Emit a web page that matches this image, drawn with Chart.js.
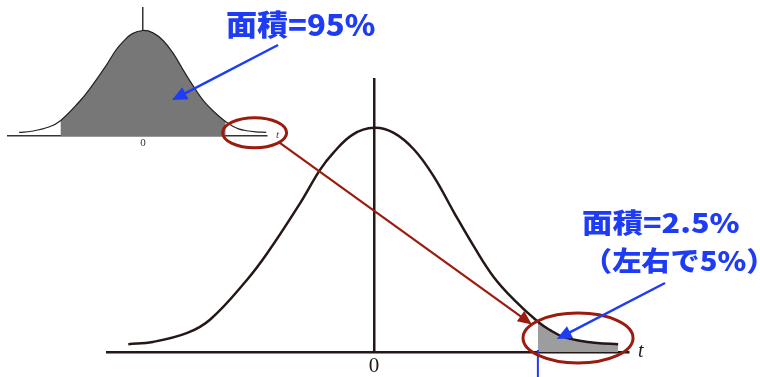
<!DOCTYPE html>
<html>
<head>
<meta charset="utf-8">
<script src="https://cdn.jsdelivr.net/npm/chart.js@4.4.0/dist/chart.umd.min.js"></script>
<style>
  body { margin: 0; width: 760px; height: 377px; position: relative; overflow: hidden; background: #fff; }
  canvas { position: absolute; left: 0; top: 0; }
  .lbl { position: absolute; white-space: nowrap; line-height: 1; z-index: 3; }
  .jp { font-family: "Noto Sans CJK JP", sans-serif; font-weight: 900; color: #1f3cf5; transform-origin: 0 0; }
  .tt { font-family: "Liberation Serif", serif; font-style: italic; color: #231815; }
</style>
</head>
<body>
<canvas id="inset" width="290" height="155" style="z-index:1"></canvas>
<canvas id="main" width="760" height="377" style="z-index:2"></canvas>
<div class="lbl jp" style="left:226px;top:9px;font-size:29px;transform:scaleX(1.07);">面積=95%</div>
<div class="lbl jp" style="left:582px;top:208px;font-size:27px;transform:scaleX(1.13);">面積=2.5%</div>
<div class="lbl jp" style="left:583px;top:246px;font-size:27px;transform:scaleX(1.08);">（左右で5%）</div>
<div class="lbl tt" style="left:638px;top:340px;font-size:20px;">t</div>
<div class="lbl tt" style="left:276px;top:129px;font-size:11px;color:#444;">t</div>
<script>
// t値と確率密度
let curveT = [-3.0, -2.70, -2.28, -2.0, -1.55, -1.30, -0.90, -0.66, -0.50, -0.26, 0,
              0.24, 0.49, 0.73, 0.98, 1.22, 1.46, 1.71, 2.0, 2.15, 2.31, 2.51, 2.72, 2.98];
let curveD = [0.014, 0.018, 0.034, 0.058, 0.129, 0.177, 0.266, 0.325, 0.355, 0.388, 0.400,
              0.391, 0.361, 0.313, 0.248, 0.188, 0.134, 0.093, 0.054, 0.039, 0.027, 0.020, 0.016, 0.014];
let critT = 2.0;          // 棄却域の境界
let tickValues = [0];
let yMax = 0.489;

let ink = '#231815';
let red = '#9b1b0f';
let blue = '#1f3cf5';

function points(filter) {
    let out = [];
    for (let i = 0; i < curveT.length; i++) {
        if (!filter || filter(curveT[i])) out.push({ x: curveT[i], y: curveD[i] });
    }
    return out;
}

function xScale(min, max, fontSize, lw, color, h, pad) {
    return {
        type: 'linear', min: min, max: max, z: 1,
        grid: { display: true, drawTicks: false, color: color, lineWidth: lw },
        border: { display: true, color: color, width: lw },
        ticks: { autoSkip: false, maxRotation: 0, padding: pad, color: color,
                 font: { family: 'Liberation Serif', size: fontSize } },
        afterBuildTicks: function (s) { s.ticks = tickValues.map(v => ({ value: v })); },
        afterFit: function (s) { s.height = h; }
    };
}

// 小さい図（面積=95%）
let insetChart = new Chart(document.getElementById('inset'), {
    type: 'line',
    data: {
        datasets: [{
            data: points(),
            borderColor: '#222', borderWidth: 1.2, pointRadius: 0,
            tension: 0.4, fill: false
        }, {
            data: points(t => t >= -critT && t <= critT),
            borderWidth: 0, pointRadius: 0, backgroundColor: '#777777',
            tension: 0.4, fill: 'origin'
        }]
    },
    options: {
        responsive: false, animation: false, devicePixelRatio: 1,
        layout: { padding: { left: 8, right: 23, top: 7, bottom: 0 } },
        plugins: { legend: { display: false }, tooltip: { enabled: false } },
        scales: {
            x: xScale(-3.27, 3.0, 11, 1.5, '#333', 19, 1),
            y: { display: false, min: 0, max: yMax }
        }
    }
});

function ellipse(ctx, cx, cy, rx, ry) {
    ctx.beginPath();
    ctx.ellipse(cx, cy, rx, ry, 0, 0, Math.PI * 2);
    ctx.stroke();
}

function arrow(ctx, x0, y0, x1, y1, color, lw, head) {
    let a = Math.atan2(y1 - y0, x1 - x0);
    ctx.strokeStyle = color;
    ctx.fillStyle = color;
    ctx.lineWidth = lw;
    ctx.beginPath();
    ctx.moveTo(x0, y0);
    ctx.lineTo(x1 - Math.cos(a) * head * 0.8, y1 - Math.sin(a) * head * 0.8);
    ctx.stroke();
    ctx.beginPath();
    ctx.moveTo(x1, y1);
    ctx.lineTo(x1 - Math.cos(a) * head + Math.sin(a) * head * 0.45, y1 - Math.sin(a) * head - Math.cos(a) * head * 0.45);
    ctx.lineTo(x1 - Math.cos(a) * head - Math.sin(a) * head * 0.45, y1 - Math.sin(a) * head + Math.cos(a) * head * 0.45);
    ctx.closePath();
    ctx.fill();
}

let notes = {
    id: 'notes',
    afterDraw: function (chart) {
        let ctx = chart.ctx;
        let xs = chart.scales.x, ys = chart.scales.y;
        let ixs = insetChart.scales.x, iys = insetChart.scales.y;
        ctx.save();

        // 境界の青い目盛
        let cx = xs.getPixelForValue(critT);
        ctx.strokeStyle = blue;
        ctx.lineWidth = 2;
        ctx.beginPath();
        ctx.moveTo(cx, chart.chartArea.bottom - 2);
        ctx.lineTo(cx, 377);
        ctx.stroke();

        // 赤い楕円
        let e1 = { x: ixs.getPixelForValue(2.7), y: iys.getPixelForValue(0.012), rx: 32, ry: 15 };
        let e2 = { x: xs.getPixelForValue(2.49), y: ys.getPixelForValue(0.025), rx: 55, ry: 25 };
        ctx.strokeStyle = red;
        ctx.lineWidth = 3;
        ellipse(ctx, e1.x, e1.y, e1.rx, e1.ry);
        ellipse(ctx, e2.x, e2.y, e2.rx, e2.ry);

        let a1 = 40 * Math.PI / 180, a2 = 213 * Math.PI / 180;
        arrow(ctx, e1.x + e1.rx * Math.cos(a1), e1.y + e1.ry * Math.sin(a1),
              e2.x + e2.rx * Math.cos(a2), e2.y + e2.ry * Math.sin(a2), red, 2.2, 14);

        // 青い矢印
        arrow(ctx, 278, 45, ixs.getPixelForValue(0.7), iys.getPixelForValue(0.136), blue, 2.5, 15);
        arrow(ctx, 665, 283, xs.getPixelForValue(2.23), ys.getPixelForValue(0.023), blue, 2.5, 15);
        ctx.restore();
    }
};

// 大きい図（片側2.5%）
let mainChart = new Chart(document.getElementById('main'), {
    type: 'line',
    data: {
        datasets: [{
            data: points(),
            borderColor: ink, borderWidth: 2.5, pointRadius: 0,
            tension: 0.4, fill: false
        }, {
            data: points(t => t >= critT),
            borderWidth: 0, pointRadius: 0, backgroundColor: '#9d9d9d',
            tension: 0.4, fill: 'origin'
        }]
    },
    options: {
        responsive: false, animation: false, devicePixelRatio: 1,
        layout: { padding: { left: 107, right: 132, top: 78, bottom: 0 } },
        plugins: { legend: { display: false }, tooltip: { enabled: false } },
        scales: {
            x: xScale(-3.26, 3.1, 21, 2.5, ink, 25, 2),
            y: { display: false, min: 0, max: yMax }
        }
    },
    plugins: [notes]
});
</script>
</body>
</html>
